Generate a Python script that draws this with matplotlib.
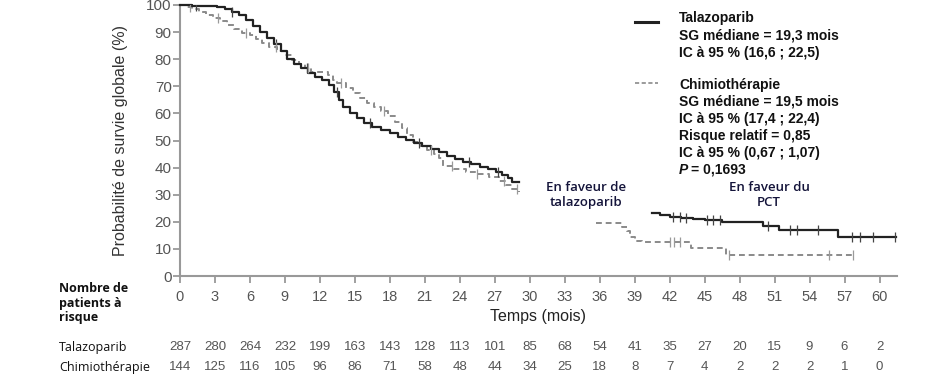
import matplotlib
matplotlib.use("Agg")
import matplotlib.pyplot as plt
import numpy as np
from matplotlib.lines import Line2D
from matplotlib.transforms import blended_transform_factory

plt.rcParams['font.family'] = ['Liberation Sans', 'DejaVu Sans']

# courbes de Kaplan-Meier (mois, %)
tala_t1 = [0, 1.0, 2.0, 3.2, 3.9, 4.5, 5.1, 5.7, 6.3, 6.9, 7.5, 8.1, 8.7, 9.2, 9.8,
           10.4, 11.0, 11.6, 12.2, 12.8, 13.2, 13.6, 14.0, 14.6, 15.2, 15.8, 16.5,
           17.2, 18.0, 18.7, 19.4, 20.1, 20.8, 21.5, 22.2, 22.9, 23.6, 24.3, 25.0,
           25.7, 26.4, 27.1, 27.6, 28.1, 28.5, 29.1]
tala_s1 = [100, 99.8, 99.6, 99.3, 98.6, 97.5, 96.2, 94.5, 92.3, 90.2, 87.8, 85.5, 83,
           80.2, 78.4, 76.8, 75, 73.6, 72.3, 70.5, 68, 65, 62.5, 60.3, 58.3, 56.5, 55,
           53.8, 52.6, 51.4, 50.1, 49, 47.9, 46.9, 45.6, 44.3, 43.2, 42.2, 41.2, 40.2,
           39.3, 38.4, 37.2, 36, 34.8, 34.8]
tala_t2 = [40.5, 41.2, 42.0, 43.0, 44.0, 45.0, 46.5, 50.0, 51.4, 56.4, 61.4]
tala_s2 = [23.2, 22.6, 21.8, 21.3, 20.9, 20.5, 19.9, 18.6, 17.1, 14.4, 14.4]

chimio_t1 = [0, 0.5, 1.0, 1.6, 2.2, 2.8, 3.4, 4.0, 4.6, 5.3, 6.0, 6.5, 7.0, 7.6, 8.3,
             9.0, 9.6, 10.2, 10.7, 11.2, 12.7, 13.1, 13.5, 14.2, 14.8, 15.4, 16.0,
             16.6, 17.2, 17.8, 18.4, 19.0, 19.5, 20.0, 20.6, 21.2, 21.8, 22.2, 22.6,
             23.5, 24.5, 25.5, 26.5, 27.4, 28.0, 28.5, 29.1]
chimio_s1 = [100, 99.3, 98.6, 97.5, 96.3, 95.2, 94, 92.8, 91, 89.5, 88.8, 87.5, 86,
             84.5, 83, 81.5, 79.7, 78.2, 76.8, 75.3, 74, 72.3, 71.3, 69.5, 67.5, 65.5,
             64, 62.5, 61, 59, 57, 54.5, 52, 49.5, 47.8, 46.5, 45.2, 43.5, 40.5, 39.3,
             38.4, 37.5, 36.5, 35.2, 33.5, 32, 31]
chimio_t2 = [35.7, 37.9, 38.3, 38.6, 39.0, 39.6, 43.8, 46.8, 57.7]
chimio_s2 = [19.6, 18.0, 16.5, 14.5, 13.0, 12.5, 10.3, 7.8, 7.8]

# patients censurés
tala_cens = [1.4, 4.5, 8.2, 10.9, 13.5, 16.3, 20.5, 24.8, 27.3,
             42.3, 42.9, 43.4, 45.2, 45.7, 46.3, 50.4, 52.3, 52.9, 54.7, 57.6, 58.3, 59.4, 61.3]
chimio_cens = [0.9, 3.3, 5.7, 8.2, 11.0, 13.8, 17.5, 21.5, 23.3, 25.5, 27.8, 28.9,
               42.0, 42.4, 42.9, 47.1, 55.7, 57.7]

mois = list(range(0, 61, 3))
risque_tala = [287, 280, 264, 232, 199, 163, 143, 128, 113, 101, 85, 68, 54, 41, 35, 27, 20, 15, 9, 6, 2]
risque_chimio = [144, 125, 116, 105, 96, 86, 71, 58, 48, 44, 34, 25, 18, 8, 7, 4, 2, 2, 2, 1, 0]


def km_value(ts, ss, x):
    i = np.searchsorted(ts, x, side='right') - 1
    return ss[max(i, 0)]


W, H = 949, 385
fig = plt.figure(figsize=(W / 100, H / 100), dpi=100)
ax = fig.add_axes([180 / W, 1 - 276 / H, 717 / W, 271 / H])

noir = '#222222'
gris = '#8a8a8a'

for ts, ss in [(tala_t1, tala_s1), (tala_t2, tala_s2)]:
    ax.step(ts, ss, where='post', color=noir, lw=1.6, clip_on=False, zorder=3)
for ts, ss in [(chimio_t1, chimio_s1), (chimio_t2, chimio_s2)]:
    ax.step(ts, ss, where='post', color=gris, lw=1.4, ls=(0, (3, 2)), clip_on=False, zorder=2)

for c in tala_cens:
    ts, ss = (tala_t1, tala_s1) if c < 30 else (tala_t2, tala_s2)
    ax.plot(c, km_value(ts, ss, c), marker='|', ms=7, mew=0.9, color='#444444', zorder=4)
for c in chimio_cens:
    ts, ss = (chimio_t1, chimio_s1) if c < 30 else (chimio_t2, chimio_s2)
    ax.plot(c, km_value(ts, ss, c), marker='|', ms=7, mew=0.9, color='#9a9a9a', zorder=4)

ax.set_xlim(0, 61.5)
ax.set_ylim(0, 100)
ax.set_xticks(mois)
ax.set_yticks(range(0, 101, 10))
for s in ['top', 'right']:
    ax.spines[s].set_visible(False)
for s in ['left', 'bottom']:
    ax.spines[s].set_color('#999999')
    ax.spines[s].set_linewidth(1.5)
ax.tick_params(axis='both', colors='#999999', width=1.3, length=5, direction='out')
ax.tick_params(axis='x', labelsize=10.5, labelcolor='#555555', pad=5)
ax.tick_params(axis='y', labelsize=11, labelcolor='#555555', pad=1)

ax.set_xlabel('Temps (mois)', fontsize=11.5, color='#222222', labelpad=4)
ax.set_ylabel('Probabilité de survie globale (%)', fontsize=11.5, color='#333333', labelpad=2)
ax.yaxis.set_label_coords(-52 / 717, 0.5)

# légende / statistiques
def ftext(x, y, s, **kw):
    fig.text(x / W, 1 - y / H, s, va='center', ha='left', fontsize=10,
             fontweight='bold', color='#111111', **kw)

fig.add_artist(Line2D([635 / W, 658 / W], [1 - 22 / H, 1 - 22 / H], color=noir, lw=2.2))
fig.add_artist(Line2D([635 / W, 658 / W], [1 - 83 / H, 1 - 83 / H], color=gris, lw=1.2,
                      ls=(0, (2.5, 1.5))))
ftext(679, 18, 'Talazoparib')
ftext(679, 35.5, 'SG médiane = 19,3 mois')
ftext(679, 53, 'IC à 95 % (16,6 ; 22,5)')
ftext(679, 85, 'Chimiothérapie')
ftext(679, 102, 'SG médiane = 19,5 mois')
ftext(679, 119, 'IC à 95 % (17,4 ; 22,4)')
ftext(679, 136, 'Risque relatif = 0,85')
ftext(679, 153, 'IC à 95 % (0,67 ; 1,07)')
ftext(679, 170, 'P', style='italic')
ftext(691, 170, '= 0,1693')

fig.text(586 / W, 1 - 195 / H, 'En faveur de\ntalazoparib', ha='center', va='center',
         fontsize=9.5, color='#14143a', fontweight='semibold', linespacing=1.25,
         family=['Open Sans', 'DejaVu Sans'])
fig.text(769 / W, 1 - 195 / H, 'En faveur du\nPCT', ha='center', va='center',
         fontsize=9.5, color='#14143a', fontweight='semibold', linespacing=1.25,
         family=['Open Sans', 'DejaVu Sans'])

# tableau des patients à risque
fig.text(59 / W, 1 - 303 / H, 'Nombre de\npatients à\nrisque', ha='left', va='center',
         fontsize=9, fontweight='bold', color='#111111', linespacing=1.15,
         family=['Open Sans', 'DejaVu Sans'])
fig.text(59 / W, 1 - 347 / H, 'Talazoparib', ha='left', va='center', fontsize=9,
         color='#111111', family=['Open Sans', 'DejaVu Sans'])
fig.text(59 / W, 1 - 367 / H, 'Chimiothérapie', ha='left', va='center', fontsize=9,
         color='#111111', family=['Open Sans', 'DejaVu Sans'])

tr = blended_transform_factory(ax.transData, fig.transFigure)
for m, a, b in zip(mois, risque_tala, risque_chimio):
    ax.text(m, 1 - 347 / H, str(a), transform=tr, ha='center', va='center',
            fontsize=9.5, color='#555555')
    ax.text(m, 1 - 367 / H, str(b), transform=tr, ha='center', va='center',
            fontsize=9.5, color='#555555')

fig.savefig('out.png', dpi=100)
